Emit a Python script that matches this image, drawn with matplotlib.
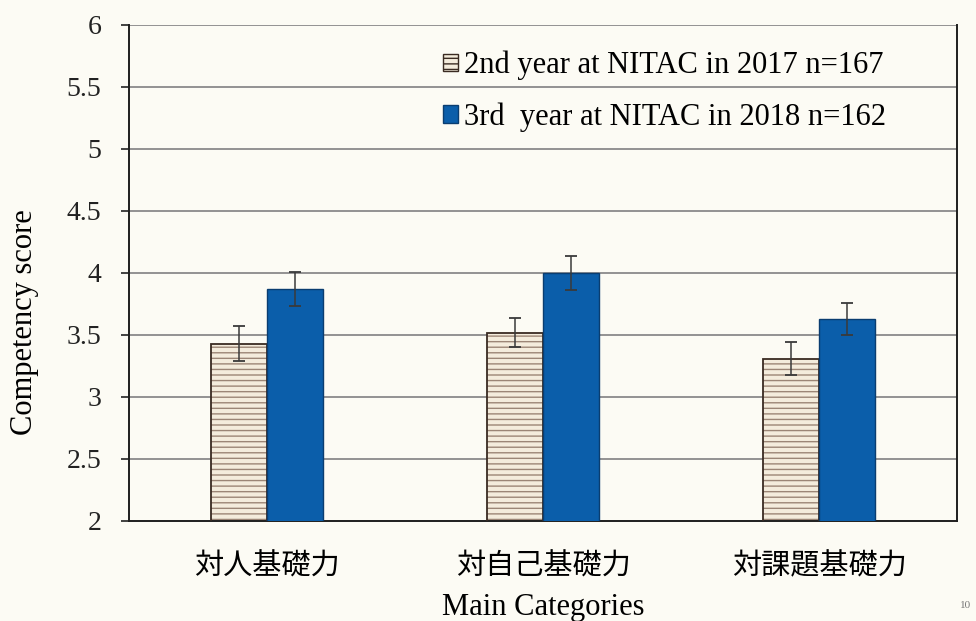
import matplotlib
matplotlib.use("Agg")
import matplotlib.pyplot as plt
from matplotlib.patches import Patch
import numpy as np

categories = ["対人基礎力", "対自己基礎力", "対課題基礎力"]
series_names = ["2nd year at NITAC in 2017 n=167", "3rd  year at NITAC in 2018 n=162"]
y2017 = [3.43, 3.52, 3.31]
err2017 = [0.14, 0.12, 0.13]
y2018 = [3.87, 4.00, 3.63]
err2018 = [0.14, 0.14, 0.13]
yticks = [2, 2.5, 3, 3.5, 4, 4.5, 5, 5.5, 6]
ytick_labels = ["2", "2.5", "3", "3.5", "4", "4.5", "5", "5.5", "6"]

BG = "#fcfbf4"
serif = ["Liberation Serif", "DejaVu Serif"]
cjk = ["Noto Sans CJK JP", "DejaVu Sans"]

fig = plt.figure(figsize=(9.76, 6.21), dpi=100, facecolor=BG)
ax = fig.add_axes([129/976, 1-521/621, (957-129)/976, (521-25)/621])
ax.set_facecolor(BG)

x = np.arange(len(categories))
w = 0.203

# gridlines
for t in yticks[1:]:
    ax.axhline(t, color="#8a8a8a", lw=1.3, zorder=1)

# 2017 bars (hatched)
ax.bar(x - w/2, y2017, w, facecolor="#f4ecdc", edgecolor="#9c8676",
       hatch="---", linewidth=0, zorder=2)
ax.bar(x - w/2, y2017, w, fill=False, edgecolor="#3a2b22", linewidth=1.3, zorder=3)
# 2018 bars
ax.bar(x + w/2, y2018, w, color="#0b5eaa", edgecolor="#0a3d70", linewidth=1.0, zorder=3)

ax.errorbar(x - w/2, y2017, yerr=err2017, fmt="none", ecolor="#3a3a3a",
            elinewidth=1.1, capsize=4, capthick=1.3, zorder=4)
ax.errorbar(x + w/2, y2018, yerr=err2018, fmt="none", ecolor="#3a3a3a",
            elinewidth=1.1, capsize=4, capthick=1.3, zorder=4)

ax.set_xlim(-0.5, 2.5)
ax.set_ylim(2, 6)
ax.set_yticks(yticks)
ax.set_yticklabels(ytick_labels, family=serif, fontsize=20)
ax.set_xticks(x)
ax.set_xticklabels(categories, family=cjk, fontsize=21)
ax.tick_params(axis="x", length=0, pad=22)
ax.tick_params(axis="y", length=6, width=1.2, direction="out", pad=14, colors="#222222")

for s in ["left", "bottom", "right"]:
    ax.spines[s].set_color("#1e1e1e")
    ax.spines[s].set_linewidth(1.4)
ax.spines["top"].set_visible(False)

ax.set_ylabel("Competency score", family=serif, fontsize=22, va="center")
ax.yaxis.set_label_coords((25-129)/828, (521-322)/496)
ax.set_xlabel("Main Categories", family=serif, fontsize=22, va="center")
ax.xaxis.set_label_coords(0.5, (521-607)/496)

handles = [
    Patch(facecolor="#f4ecdc", edgecolor="#3a2b22", hatch="---", linewidth=1.0),
    Patch(facecolor="#0b5eaa", edgecolor="#0a3d70", linewidth=1.0),
]
leg = ax.legend(handles, series_names, loc="upper left",
                bbox_to_anchor=((443-129)/828, (521-51)/496),
                frameon=False, prop={"family": serif, "size": 22},
                handlelength=0.5, handleheight=0.5, handletextpad=0.2,
                labelspacing=0.72, borderpad=0, borderaxespad=0)

fig.text(960/976, 1-606/621, "10", family=serif, fontsize=8, color="#777777",
         ha="left", va="center")

fig.savefig("out.png", dpi=100, facecolor=BG)
